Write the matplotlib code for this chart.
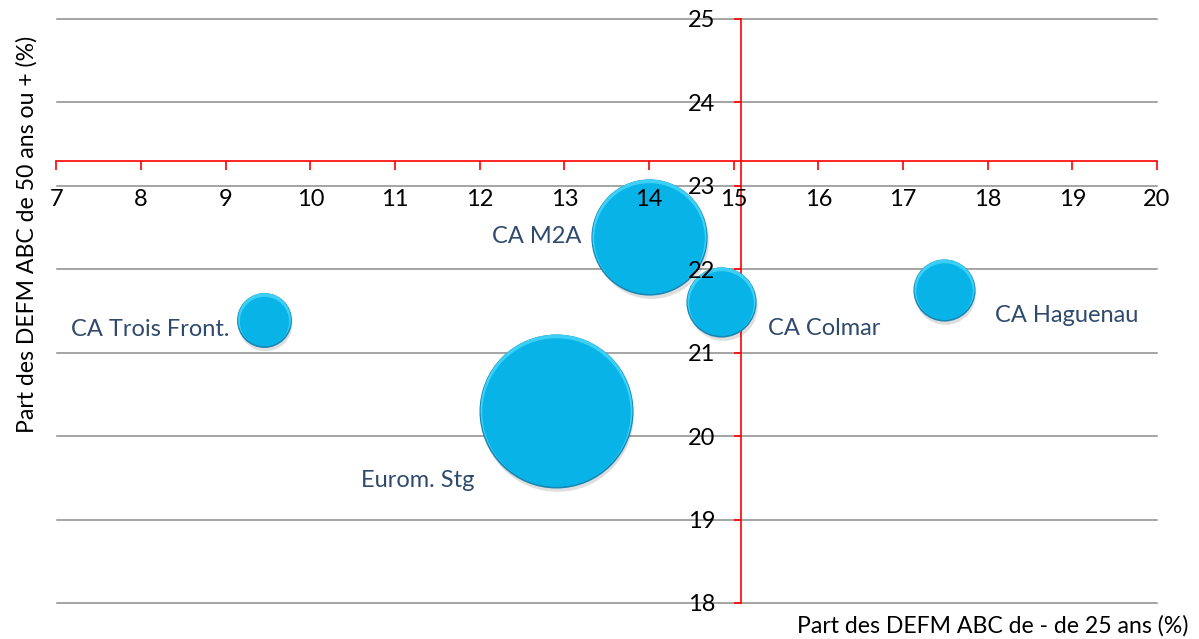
import numpy as np
import matplotlib
matplotlib.use('Agg')
import matplotlib.pyplot as plt
from matplotlib.transforms import offset_copy

## Données
zones = ['CA Trois Front.', 'Eurom. Stg', 'CA M2A', 'CA Colmar', 'CA Haguenau']
part_moins25 = [9.45, 12.9, 14.0, 14.85, 17.48]	# x (%)
part_50plus = [21.39, 20.30, 22.39, 21.61, 21.75]	# y (%)
taille = [750, 5900, 3360, 1225, 960]	# taille des bulles (aire relative)

croix_x = 15.08	# croisement axe vertical
croix_y = 23.3	# croisement axe horizontal

xticks = list(range(7, 21))
yticks = list(range(18, 26))

## placement des étiquettes (points, relatif au centre de la bulle)
lab_off = [(-25, -7, 'right'), (-59, -50, 'right'), (-49, 0, 'right'), (34, -19, 'left'), (37, -18, 'left')]

plt.rcParams['font.family'] = ['Lato', 'DejaVu Sans']

fig = plt.figure(figsize=(11.99, 6.39), dpi=100)
ax = fig.add_axes([56.5/1199, 36/639, (1157-56.5)/1199, 584/639])
ax.set_xlim(7, 20)
ax.set_ylim(18, 25)

# quadrillage horizontal
for yv in yticks:
	ax.axhline(yv, color='#8C8C8C', lw=1.1, zorder=1, clip_on=False)

# axes rouges qui se croisent
for s in ['top', 'right']:
	ax.spines[s].set_visible(False)
ax.spines['bottom'].set_position(('data', croix_y))
ax.spines['left'].set_position(('data', croix_x))
for s in ['bottom', 'left']:
	ax.spines[s].set_color('#FF0000')
	ax.spines[s].set_linewidth(1.2)
	ax.spines[s].set_zorder(2.5)
ax.set_xticks(xticks)
ax.set_yticks(yticks)
ax.tick_params(axis='x', direction='out', length=6.5, width=1.2, color='#FF0000', pad=14, labelsize=17, labelcolor='black')
ax.tick_params(axis='y', direction='out', length=5, width=1.2, color='#FF0000', pad=13, labelsize=17, labelcolor='black')
ax.xaxis.set_zorder(6)
ax.yaxis.set_zorder(6)

# bulles
tmax = max(taille)
dmax = 2*77*0.72	# diamètre max en points
for i in range(len(zones)):
	d = dmax*np.sqrt(taille[i]/tmax)
	x, y = part_moins25[i], part_50plus[i]
	for k in range(3):
		tr = offset_copy(ax.transData, fig=fig, x=1.5, y=-3-k, units='dots')
		ax.scatter([x], [y], s=(d-k)**2, color='black', alpha=0.045, lw=0, transform=tr, zorder=3)
	ax.scatter([x], [y], s=d**2, color='#1688B5', lw=0, zorder=3.1)
	tr = offset_copy(ax.transData, fig=fig, x=0, y=1, units='dots')
	ax.scatter([x], [y], s=(d-1.5)**2, color='#3DD0F6', lw=0, transform=tr, zorder=3.2)
	tr = offset_copy(ax.transData, fig=fig, x=0, y=-1, units='dots')
	ax.scatter([x], [y], s=(d-4)**2, color='#08B3E8', lw=0, transform=tr, zorder=3.3)
	dx, dy, ha = lab_off[i]
	ax.annotate(zones[i], (x, y), xytext=(dx, dy), textcoords='offset points', ha=ha, va='center',
		fontsize=17, color='#2F4A6D', zorder=7)

# titres des axes
fig.text(1188/1199, 1-626/639, 'Part des DEFM ABC de - de 25 ans (%)', ha='right', va='center', fontsize=16.6, color='black')
fig.text(27/1199, 1-234/639, 'Part des DEFM ABC de 50 ans ou + (%)', rotation=90, ha='center', va='center', fontsize=16.6, color='black')

fig.savefig('out.png', dpi=100)
